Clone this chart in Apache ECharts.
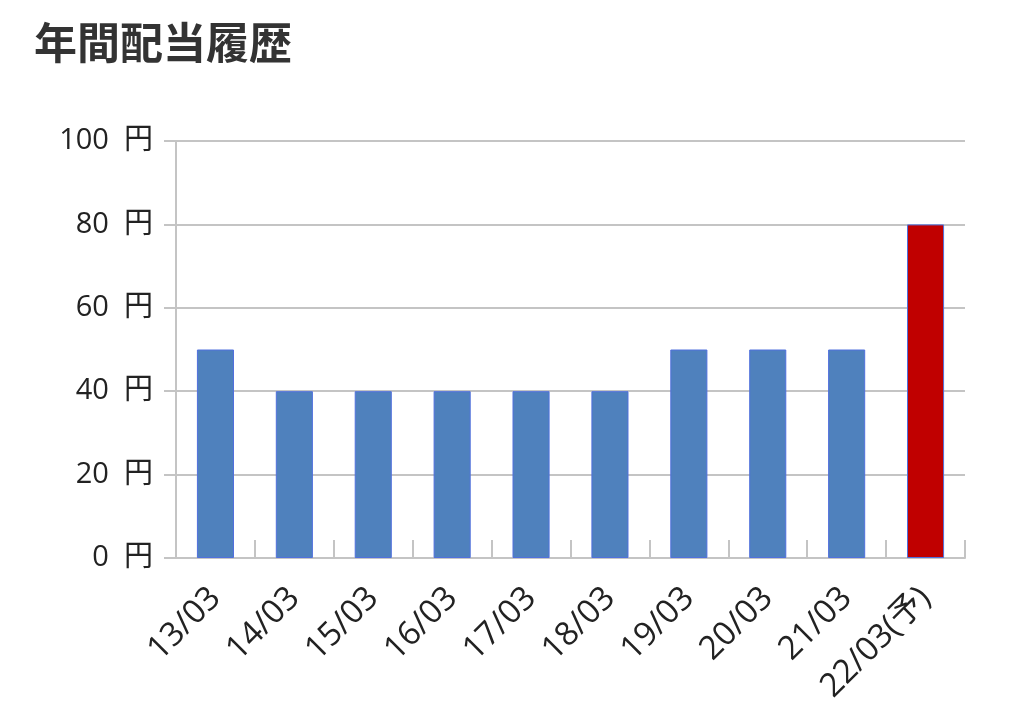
<!DOCTYPE html>
<html>
<head>
<meta charset="utf-8">
<script src="https://cdn.jsdelivr.net/npm/echarts@6/dist/echarts.min.js"></script>
<style>
  html, body { margin: 0; padding: 0; background: #fff; }
  #chart { width: 1024px; height: 720px; }
</style>
</head>
<body>
<div id="chart"></div>
<script>
// 年度ごとの配当（円）
const categories = ['13/03', '14/03', '15/03', '16/03', '17/03', '18/03', '19/03', '20/03', '21/03', '22/03(予)']
const dividends = [50, 40, 40, 40, 40, 40, 50, 50, 50, 80]
const yTicks = [0, 20, 40, 60, 80, 100]

const font = '"Open Sans", "Noto Sans CJK JP", sans-serif'
const gray = '#c4c4c4'

const chart = echarts.init(document.getElementById('chart'))

chart.setOption({
  animation: false,
  title: {
    text: '年間配当履歴',
    left: 29,
    top: 16,
    textStyle: { fontFamily: '"Noto Sans CJK JP", sans-serif', fontSize: 43, fontWeight: 'bold', color: '#333' }
  },
  grid: { left: 176, right: 59, top: 141, bottom: 162 },
  xAxis: {
    type: 'category',
    data: categories,
    boundaryGap: true,
    axisLine: { lineStyle: { color: gray, width: 2 } },
    axisTick: { show: true, inside: true, length: 18, lineStyle: { color: gray, width: 2 } },
    axisLabel: {
      rotate: 45,
      margin: 35,
      fontFamily: font,
      fontSize: 33,
      color: '#222'
    }
  },
  yAxis: {
    type: 'value',
    min: yTicks[0],
    max: yTicks[yTicks.length - 1],
    interval: yTicks[1] - yTicks[0],
    axisLine: { show: true, lineStyle: { color: gray, width: 2 } },
    axisTick: { show: true, length: 12, lineStyle: { color: gray, width: 2 } },
    splitLine: { lineStyle: { color: gray, width: 2 } },
    axisLabel: {
      formatter: '{value}  円',
      margin: 23,
      fontFamily: font,
      fontSize: 29,
      color: '#222'
    }
  },
  series: [{
    type: 'bar',
    data: dividends,
    barWidth: '47%',
    itemStyle: {
      // 予想の年だけ赤
      color: p => categories[p.dataIndex].includes('予') ? '#c00000' : '#4f81bd',
      borderColor: p => categories[p.dataIndex].includes('予') ? '#e87070' : '#3a6db0',
      borderWidth: 1
    }
  }]
})
</script>
</body>
</html>
